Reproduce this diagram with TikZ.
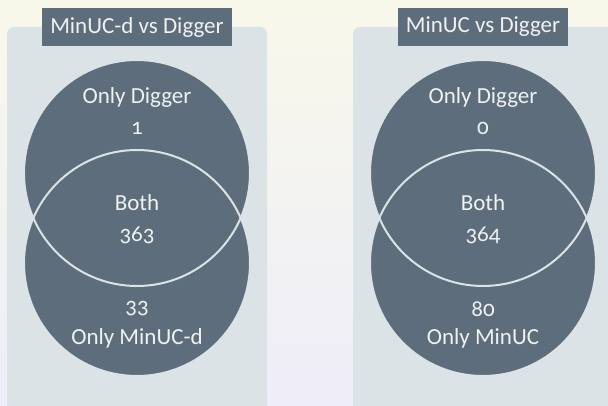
\documentclass[tikz,border=0pt]{standalone}
\usepackage{fontspec}
\setmainfont{Carlito}[Numbers=OldStyle]
\usepackage{tikz}
\usetikzlibrary{positioning}
\definecolor{slate}{RGB}{94,109,123}
\definecolor{panel}{RGB}{220,227,230}
\definecolor{ink}{RGB}{240,242,242}
\definecolor{topbg}{RGB}{248,248,234}
\definecolor{botbg}{RGB}{238,237,249}

\begin{document}
\begin{tikzpicture}[
        x = 1pt, y = -1pt,
        Panel/.style = {rectangle, rounded corners = 7, fill = panel, minimum width = 260, minimum height = 400},
        % 
        Title/.style = {rectangle, fill = slate, text = ink, inner xsep = 8, inner ysep = 0, minimum height = 38, font = \fontsize{23}{26}\selectfont},
        % 
        Disc/.style = {circle, fill = slate, minimum size = 226, inner sep = 0},
        % 
        Ring/.style = {circle, draw = panel, line width = 2, minimum size = 226, inner sep = 0},
        % 
        Label/.style = {text = ink, inner sep = 0, font = \fontsize{23}{26}\selectfont},
    ]
        \useasboundingbox (0,0) rectangle (608,406);
        \clip (0,0) rectangle (608,406);
        \shade[top color = topbg, bottom color = botbg] (0,0) rectangle (608,406);

        % Left panel
        \node[Panel] (PanelL) at (137,227) {};
        \node[Disc] (DiggerL) at (137,173) {};
        \node[Disc] (MinUCdL) at (137,263) {};
        \node[Ring] (DiggerRingL) at (DiggerL) {};
        \node[Ring] (MinUCdRingL) at (MinUCdL) {};
        \node[Title] (TitleL) at (137,27) {MinUC-d vs Digger};

        \node[Label] (OnlyDigL) at (137,97) {Only Digger};
        \node[Label] (OnlyDigNumL) at (137,128) {1};
        \node[Label] (BothL) at (137,203) {Both};
        \node[Label] (BothNumL) at (137,235) {363};
        \node[Label] (OnlyMinNumL) at (137,309) {33};
        \node[Label] (OnlyMinL) at (137,338) {Only MinUC-d};

        % Right panel
        \node[Panel] (PanelR) at (483,227) {};
        \node[Disc] (DiggerR) at (483,173) {};
        \node[Disc] (MinUCR) at (483,263) {};
        \node[Ring] (DiggerRingR) at (DiggerR) {};
        \node[Ring] (MinUCRingR) at (MinUCR) {};
        \node[Title] (TitleR) at (483,27) {MinUC vs Digger};

        \node[Label] (OnlyDigR) at (483,97) {Only Digger};
        \node[Label] (OnlyDigNumR) at (483,128) {0};
        \node[Label] (BothR) at (483,203) {Both};
        \node[Label] (BothNumR) at (483,235) {364};
        \node[Label] (OnlyMinNumR) at (483,309) {80};
        \node[Label] (OnlyMinR) at (483,338) {Only MinUC};

    \end{tikzpicture}
\end{document}
